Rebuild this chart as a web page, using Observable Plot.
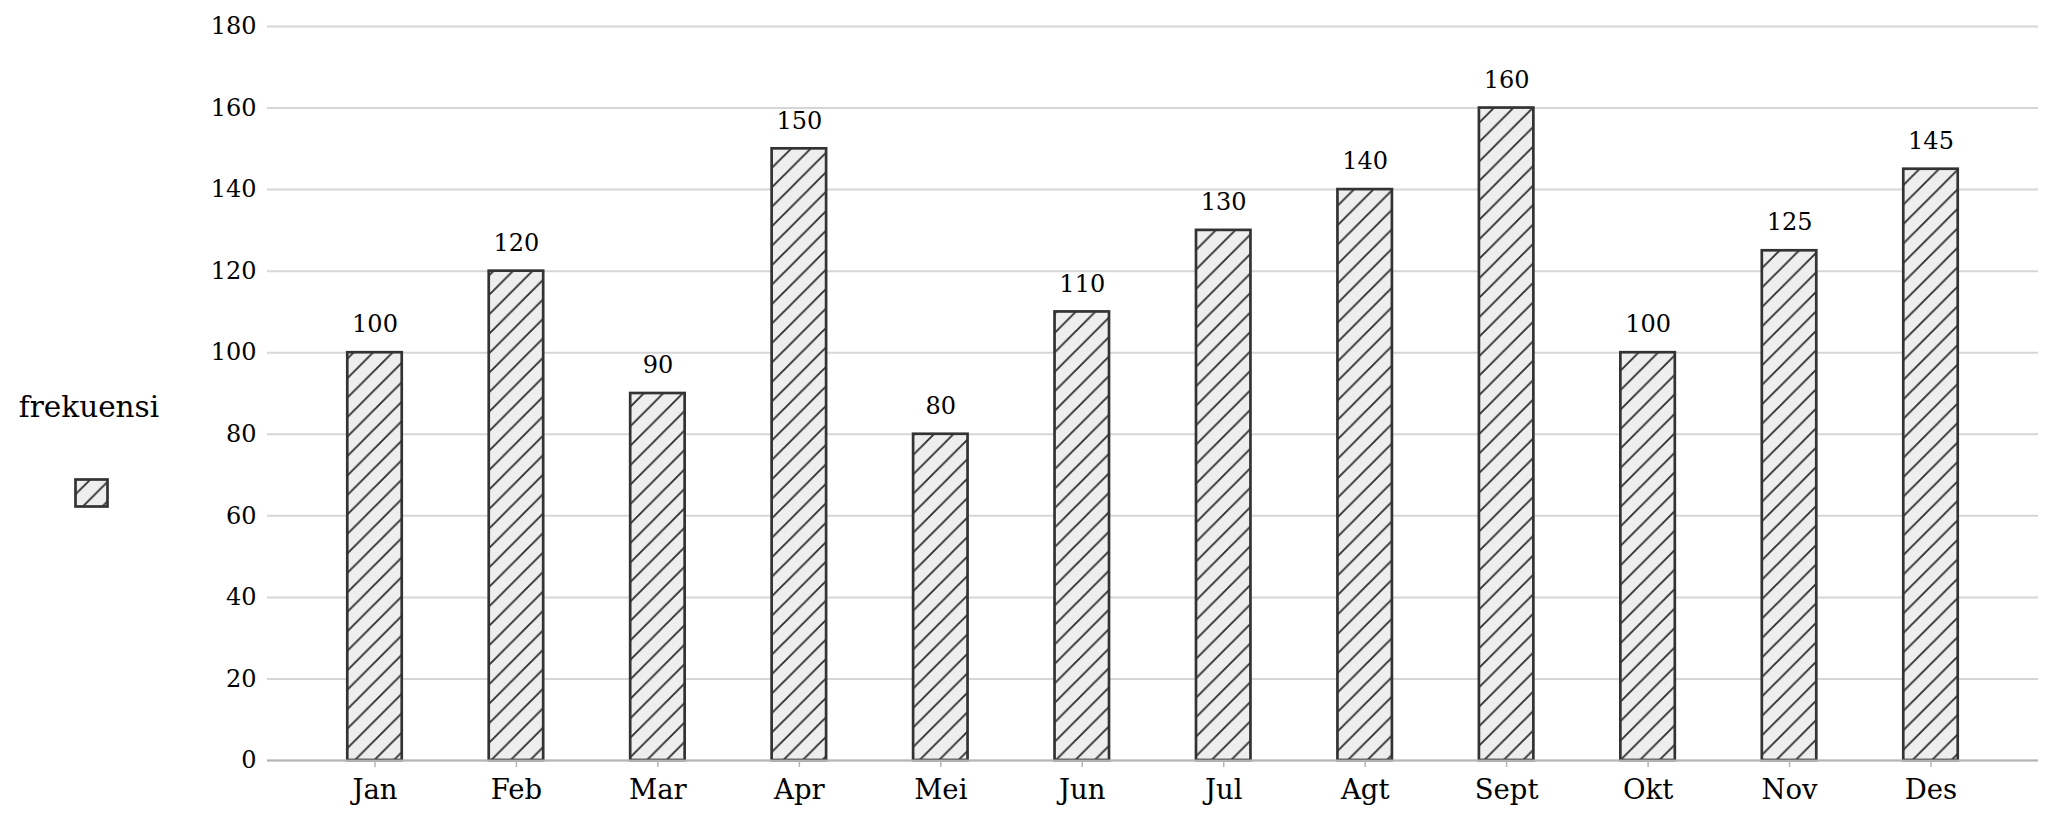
<!DOCTYPE html>
<html>
<head>
<meta charset="utf-8">
<script src="https://cdn.jsdelivr.net/npm/d3@7"></script>
<script src="https://cdn.jsdelivr.net/npm/@observablehq/plot@0.6"></script>
<style>
  html, body { margin: 0; padding: 0; background: white; }
  #chart { position: relative; width: 2055px; height: 822px; }
</style>
</head>
<body>
<div id="chart"></div>
<script>
const months = ["Jan", "Feb", "Mar", "Apr", "Mei", "Jun", "Jul", "Agt", "Sept", "Okt", "Nov", "Des"];
const frekuensi = [100, 120, 90, 150, 80, 110, 130, 140, 160, 100, 125, 145];
const yTicks = [0, 20, 40, 60, 80, 100, 120, 140, 160, 180];
const seriesName = "frekuensi";

const data = months.map((m, i) => ({month: m, value: frekuensi[i]}));

const plot = Plot.plot({
  width: 2055,
  height: 822,
  marginTop: 26,
  marginBottom: 62,
  marginLeft: 267,
  marginRight: 17,
  style: {fontFamily: "'DejaVu Serif', serif", fontSize: "24px", background: "white", color: "black"},
  x: {domain: months, paddingInner: 0.615, paddingOuter: 0.5675, round: false, label: null},
  y: {domain: [0, 180], label: null},
  marks: [
    Plot.gridY(yTicks, {stroke: "#d6d6d6", strokeOpacity: 1, strokeWidth: 2}),
    Plot.barY(data, {x: "month", y: "value", fill: "url(#hatch)", stroke: "#333333", strokeWidth: 2.7}),
    Plot.ruleY([0], {stroke: "#b5b5b5", strokeWidth: 1.8}),
    Plot.text(data, {x: "month", y: "value", text: d => String(d.value), dy: -28, fontSize: 24, fill: "black"}),
    Plot.axisY(yTicks, {tickSize: 0, tickPadding: 11, fontSize: 24, fill: "black", label: null}),
    Plot.axisX({tickSize: 7, tickPadding: 12, fontSize: 27.5, stroke: "#b5b5b5", strokeWidth: 1.5, fill: "black", label: null})
  ]
});

const svg = d3.select(plot);
const P = 19.47;
const defs = svg.insert("defs", ":first-child");
const pat = defs.append("pattern")
  .attr("id", "hatch")
  .attr("patternUnits", "userSpaceOnUse")
  .attr("width", P).attr("height", P)
  .attr("patternTransform", "translate(5.2,0)");
pat.append("rect").attr("width", P).attr("height", P).attr("fill", "#eeeeee");
pat.append("path")
  .attr("d", `M${-P/4},${P/4} L${P/4},${-P/4} M0,${P} L${P},0 M${3*P/4},${5*P/4} L${5*P/4},${3*P/4}`)
  .attr("stroke", "#2e2e2e").attr("stroke-width", 1.85).attr("fill", "none");

// legend (left of plot)
const lg = svg.append("g").attr("class", "legend");
lg.append("text")
  .attr("x", 89).attr("y", 416.5)
  .attr("text-anchor", "middle")
  .attr("font-size", 29.5)
  .attr("fill", "black")
  .text(seriesName);
lg.append("rect")
  .attr("x", 75.5).attr("y", 479.5).attr("width", 32).attr("height", 27)
  .attr("fill", "url(#hatch)").attr("stroke", "#333333").attr("stroke-width", 2.7);

document.getElementById("chart").appendChild(plot);
</script>
</body>
</html>
